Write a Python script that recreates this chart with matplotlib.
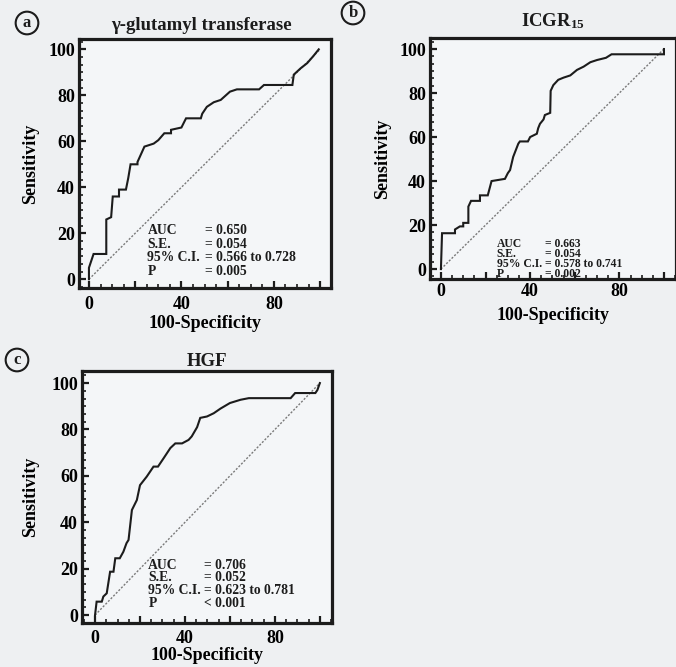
import matplotlib
matplotlib.use("Agg")
import matplotlib.pyplot as plt
from matplotlib.ticker import MultipleLocator, AutoMinorLocator, FuncFormatter

plt.rcParams['font.family'] = ['Liberation Serif', 'DejaVu Serif']
plt.rcParams['font.weight'] = 'bold'
plt.rcParams['mathtext.fontset'] = 'custom'
plt.rcParams['mathtext.rm'] = 'Liberation Serif:bold'
plt.rcParams['mathtext.bf'] = 'Liberation Serif:bold'
plt.rcParams['mathtext.default'] = 'bf'

# ---------------- data ----------------
ggt_x = [0, 0, 2, 7.5, 7.5, 9.6, 10.3, 13, 13, 16, 17, 18, 21, 21, 24, 28, 30, 32.6, 35.5, 35.5,
         40, 42, 48.4, 49, 51, 54, 57, 61, 64, 73.6, 75.7, 88, 88.6, 91.5, 94.4, 97, 99.4]
ggt_y = [0, 5, 11, 11, 26, 27, 36, 36, 39, 39, 44, 50, 50, 51, 57.7, 59, 60.5, 63.5, 63.5, 65,
         66, 70, 70, 72, 75, 77, 78, 81.6, 82.6, 82.6, 84.5, 84.5, 89, 91.7, 94, 97, 100]

icg_x = [0, 0.5, 6.3, 6.3, 8.5, 10, 10, 12.3, 12.3, 13.5, 17.5, 17.5, 21, 22.7, 28.7, 30, 31, 32.4,
         34.7, 35.4, 39, 40, 43, 43.6, 44.4, 46, 46.6, 49, 49.2, 50.4, 52.6, 55, 58, 61, 64, 67,
         70, 74, 76.5, 100, 100]
icg_y = [0, 16.3, 16.3, 18, 19.4, 19.4, 21, 21, 28.4, 31, 31, 33.5, 33.5, 40, 41, 43.6, 45, 51,
         57, 58, 58, 60, 61.5, 64, 66, 68, 70, 71, 81, 83.6, 86, 87, 88, 90.5, 92, 94,
         95, 96, 97.6, 97.6, 100]

hgf_x = [0, 0.7, 3, 3.7, 5.2, 6.7, 8.2, 9, 11, 12.6, 14, 14.9, 16.4, 18.6, 20, 23, 26, 28, 30.5,
         33.5, 35.7, 38.7, 41.6, 43, 45.4, 46.8, 49.8, 52.8, 55.8, 60, 64.7, 68.4, 87, 89, 98,
         98.9, 100]
hgf_y = [0, 5.8, 5.8, 8, 9.4, 18.7, 18.7, 24.5, 24.5, 27.3, 31, 32.4, 45.3, 49.6, 56, 59.7, 64, 64,
         67.6, 72, 74, 74, 75.5, 77, 81, 85, 85.6, 87, 89, 91.4, 92.8, 93.5, 93.5, 95.7, 95.7,
         97, 100]

diag = [0, 100]

titles = ["\u03b3-glutamyl transferase", "ICGR$_{15}$", "HGF"]
panel_letters = ["a", "b", "c"]
stat_labels = ["AUC", "S.E.", "95% C.I.", "P"]
stats_a = ["= 0.650", "= 0.054", "= 0.566 to 0.728", "= 0.005"]
stats_b = ["= 0.663", "= 0.054", "= 0.578 to 0.741", "= 0.002"]
stats_c = ["= 0.706", "= 0.052", "= 0.623 to 0.781", "< 0.001"]
y_ticks = [0, 20, 40, 60, 80, 100]
x_tick_labels = [0, 40, 80]

# ---------------- figure ----------------
W, H = 676, 667
fig = plt.figure(figsize=(W / 100, H / 100), dpi=100)
bg = '#eef0f2'
fig.patch.set_facecolor(bg)

def px_axes(left, right, top, bottom):
    return fig.add_axes([left / W, 1 - bottom / H, (right - left) / W, (bottom - top) / H])

ink = '#1c1c1c'
FS = 13

panels = [
    dict(box=(79, 331, 39, 288), xlim=(-4.3, 104.7), ylim=(-3.8, 104.5),
         x=ggt_x, y=ggt_y, stats=stats_a, lx=25.3, vx=50.0, rows=[21.4, 15.0, 9.3, 3.2], fs=9.8,
         circ=(27, 23), tpos=(201, 25), ylab=31, xlab=323, xtick_pad=6, block=None),
    dict(box=(430, 676, 38, 279), xlim=(-4.9, 105.4), ylim=(-4.5, 105.0),
         x=icg_x, y=icg_y, stats=stats_b, lx=25.0, vx=46.5, rows=None, fs=8.4,
         circ=(353, 13), tpos=(553, 21), ylab=383, xlab=315, xtick_pad=3, block=4.6),
    dict(box=(82, 332, 371, 623), xlim=(-5.8, 105.4), ylim=(-3.4, 105.2),
         x=hgf_x, y=hgf_y, stats=stats_c, lx=23.7, vx=48.4, rows=[21.5, 16.0, 10.8, 5.2], fs=9.8,
         circ=(17, 360), tpos=(207, 362), ylab=31, xlab=655, xtick_pad=5, block=None),
]

for i, p in enumerate(panels):
    l, r, t, b = p['box']
    ax = px_axes(l, r, t, b)
    ax.set_facecolor('#f4f6f8')
    ax.plot(diag, diag, color='#7a7a7a', lw=1.0, ls=(0, (1.5, 1.2)), zorder=2)
    ax.plot(p['x'], p['y'], color=ink, lw=1.5, zorder=3, solid_joinstyle='miter')
    ax.set_xlim(*p['xlim'])
    ax.set_ylim(*p['ylim'])
    for s in ax.spines.values():
        s.set_linewidth(2.3)
        s.set_color(ink)
    ax.yaxis.set_major_locator(MultipleLocator(20))
    ax.yaxis.set_minor_locator(AutoMinorLocator(6))
    ax.xaxis.set_major_locator(MultipleLocator(20))
    ax.xaxis.set_minor_locator(AutoMinorLocator(4))
    ax.xaxis.set_major_formatter(FuncFormatter(
        lambda v, pos: (str(int(round(v))) if int(round(v)) in x_tick_labels else '')))
    ax.yaxis.set_major_formatter(FuncFormatter(
        lambda v, pos: (str(int(round(v))) if int(round(v)) in y_ticks else '')))
    ax.tick_params(which='major', direction='in', length=5, width=1.6, color=ink,
                   labelsize=FS, pad=3)
    ax.tick_params(which='minor', direction='in', length=3, width=1.2, color=ink)
    ax.tick_params(axis='x', which='major', pad=p['xtick_pad'])
    for lab in ax.get_xticklabels() + ax.get_yticklabels():
        lab.set_fontweight('bold')
    ax.set_ylabel("Sensitivity", fontsize=FS, fontweight='bold')
    ax.set_xlabel("100-Specificity", fontsize=FS, fontweight='bold')
    ax.yaxis.set_label_coords((p['ylab'] - l) / (r - l), 0.5)
    ax.xaxis.set_label_coords(0.5, -(p['xlab'] - b) / (b - t))
    ax.xaxis.label.set_va('center')
    ax.yaxis.label.set_va('center')
    if p['block'] is None:
        for lab, val, yy in zip(stat_labels, p['stats'], p['rows']):
            ax.text(p['lx'], yy, lab, fontsize=p['fs'], fontweight='bold', va='center',
                    ha='left', color=ink, zorder=4)
            ax.text(p['vx'], yy, val, fontsize=p['fs'], fontweight='bold', va='center',
                    ha='left', color=ink, zorder=4)
    else:
        ax.text(p['lx'], p['block'], "\n".join(stat_labels), fontsize=p['fs'],
                fontweight='bold', va='center', ha='left', color=ink, zorder=4,
                linespacing=0.78)
        ax.text(p['vx'], p['block'], "\n".join(p['stats']), fontsize=p['fs'],
                fontweight='bold', va='center', ha='left', color=ink, zorder=4,
                linespacing=0.78)
    tx, ty = p['tpos']
    fig.text(tx / W, 1 - ty / H, titles[i], fontsize=13.5, fontweight='bold',
             ha='center', va='center', color=ink)
    cx, cy = p['circ']
    fig.text(cx / W, 1 - cy / H, panel_letters[i], fontsize=12, fontweight='bold',
             ha='center', va='center', color=ink,
             bbox=dict(boxstyle='circle,pad=0.2', fc='none', ec=ink, lw=1.5))

fig.savefig("out.png", dpi=100, facecolor=bg)
